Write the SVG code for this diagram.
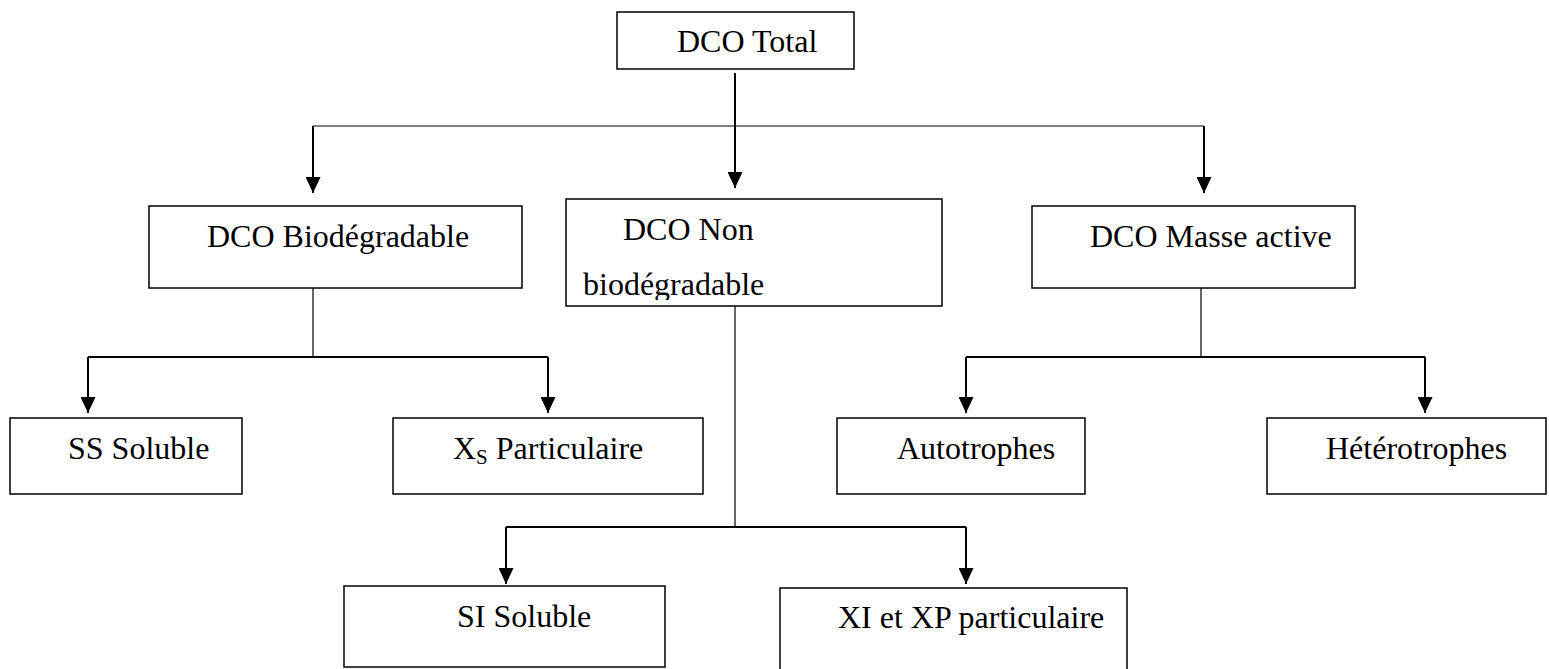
<svg xmlns="http://www.w3.org/2000/svg" width="1549" height="669" viewBox="0 0 1549 669">
<style>
.box{fill:#fff;stroke:#000;stroke-width:1.5}
.t{font-family:"Liberation Serif","Times New Roman",serif;font-size:32px;fill:#000}
.ln{fill:none;stroke:#000;stroke-width:2}
.thin{fill:none;stroke:#000;stroke-width:1.2}
</style>
<defs>
<marker id="ah" viewBox="0 0 16 15" refX="16" refY="7.5" markerWidth="16" markerHeight="15" markerUnits="userSpaceOnUse" orient="auto">
<path d="M0,0 L16,7.5 L0,15 Z" fill="#000"/>
</marker>
<clipPath id="clipNon"><rect x="566" y="199" width="376" height="101"/></clipPath>
</defs>
<rect width="1549" height="669" fill="#fff"/>
<g id="connectors">
<line class="ln" x1="735" y1="73" x2="735" y2="188" marker-end="url(#ah)"/>
<line class="thin" x1="313" y1="126" x2="1204" y2="126"/>
<line class="ln" x1="313" y1="126" x2="313" y2="193" marker-end="url(#ah)"/>
<line class="ln" x1="1204" y1="126" x2="1204" y2="193" marker-end="url(#ah)"/>
<line class="thin" x1="313" y1="288" x2="313" y2="356"/>
<line class="ln" x1="88" y1="357" x2="548" y2="357"/>
<line class="ln" x1="88" y1="357" x2="88" y2="413" marker-end="url(#ah)"/>
<line class="ln" x1="548" y1="357" x2="548" y2="413" marker-end="url(#ah)"/>
<line class="thin" x1="1201" y1="288" x2="1201" y2="356"/>
<line class="ln" x1="966" y1="357" x2="1425" y2="357"/>
<line class="ln" x1="966" y1="357" x2="966" y2="413" marker-end="url(#ah)"/>
<line class="ln" x1="1425" y1="357" x2="1425" y2="413" marker-end="url(#ah)"/>
<line class="thin" x1="735" y1="306" x2="735" y2="526"/>
<line class="ln" x1="506" y1="527" x2="966" y2="527"/>
<line class="ln" x1="506" y1="527" x2="506" y2="584" marker-end="url(#ah)"/>
<line class="ln" x1="966" y1="527" x2="966" y2="584" marker-end="url(#ah)"/>
</g>
<g id="dco-total">
<rect class="box" x="617" y="12" width="237" height="57"/>
<text class="t" x="677" y="52">DCO Total</text>
</g>
<g id="dco-biodegradable">
<rect class="box" x="149" y="206" width="373" height="82"/>
<text class="t" x="207" y="247">DCO Biodégradable</text>
</g>
<g id="dco-non-biodegradable">
<rect class="box" x="566" y="199" width="376" height="107"/>
<g clip-path="url(#clipNon)">
<text class="t" x="623" y="240">DCO Non</text>
<text class="t" x="583" y="295">biodégradable</text>
</g>
</g>
<g id="dco-masse-active">
<rect class="box" x="1032" y="206" width="323" height="82"/>
<text class="t" x="1090" y="247">DCO Masse active</text>
</g>
<g id="ss-soluble">
<rect class="box" x="10" y="418" width="232" height="76"/>
<text class="t" x="68" y="459">SS Soluble</text>
</g>
<g id="xs-particulaire">
<rect class="box" x="393" y="418" width="310" height="76"/>
<text class="t" x="453" y="459">X<tspan font-size="21" dy="5">S</tspan><tspan dy="-5"> Particulaire</tspan></text>
</g>
<g id="autotrophes">
<rect class="box" x="837" y="418" width="248" height="76"/>
<text class="t" x="897" y="459">Autotrophes</text>
</g>
<g id="heterotrophes">
<rect class="box" x="1267" y="418" width="279" height="76"/>
<text class="t" x="1326" y="459">Hétérotrophes</text>
</g>
<g id="si-soluble">
<rect class="box" x="344" y="586" width="321" height="81"/>
<text class="t" x="457" y="627">SI Soluble</text>
</g>
<g id="xi-xp-particulaire">
<rect class="box" x="780" y="588" width="347" height="90"/>
<text class="t" x="838" y="628">XI et XP particulaire</text>
</g>
</svg>
